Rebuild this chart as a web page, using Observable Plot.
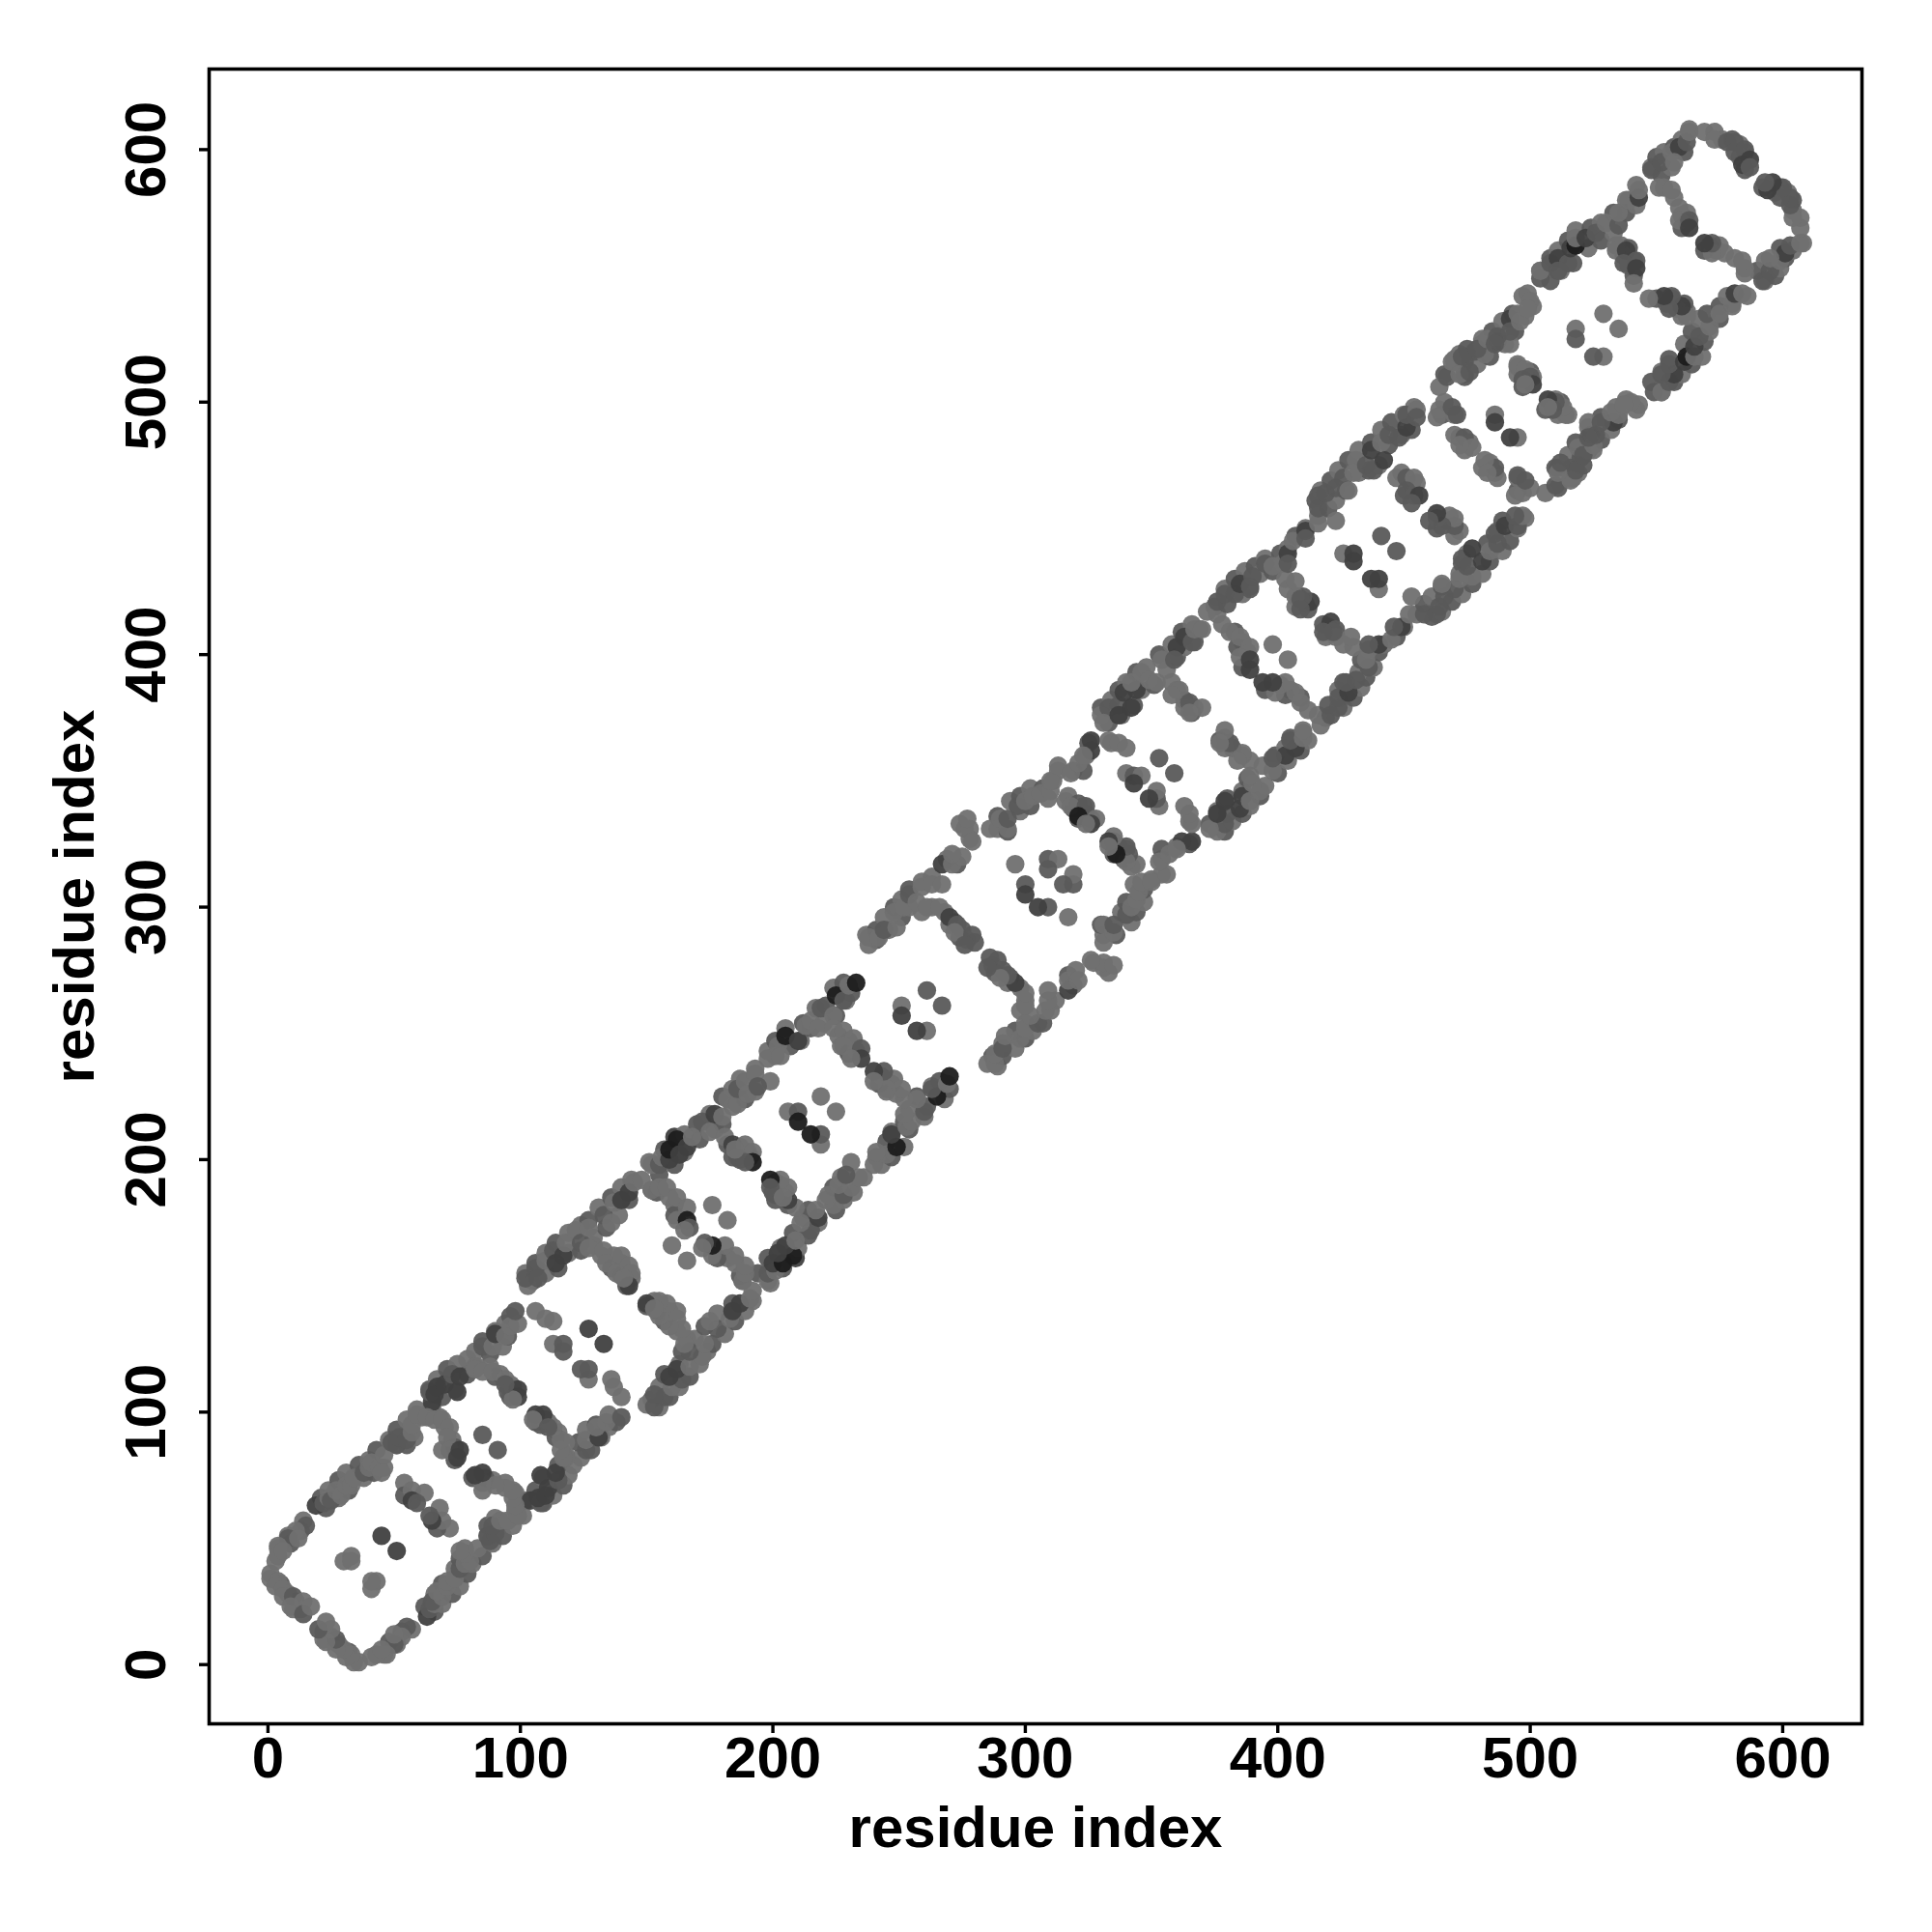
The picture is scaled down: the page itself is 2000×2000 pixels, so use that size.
<!DOCTYPE html>
<html>
<head>
<meta charset="utf-8">
<script src="https://cdn.jsdelivr.net/npm/d3@7"></script>
<script src="https://cdn.jsdelivr.net/npm/@observablehq/plot@0.6"></script>
<style>html,body{margin:0;padding:0;background:#fff}</style>
</head>
<body>
<div id="chart"></div>
<script>
const xTicks = [0, 100, 200, 300, 400, 500, 600];
const yTicks = [0, 100, 200, 300, 400, 500, 600];
const axisTitle = "residue index";

const edges1 = [[21,66,2],[24,69],[28,73,2],[31,76],[36,79,2],[40,81],[43,85,2],[48,89],[51,93,2],[55,97],[59,101],[23,62,2],[28,66],[32,69,2],[38,74],[42,76,2],[46,78],[51,87],[55,87,2],[58,90],
  [1,36],[5,32,2],[8,28],[11,25,2],[13,22],[10,22],[14,57],[13,53,2],[8,51],[9,48,2],[4,46],[3,41]];
const edges2 = [[64,109,2],[67,113],[71,117,2],[75,119],[82,124],[85,128,2],[90,132],[94,135],[96,138,2],[65,102],[69,106,2],[74,109],[79,115,2],[83,118],[88,123,2],[93,126],[95,130,2],
  [61,98],[65,99],[68,98],[70,94],[69,85],[73,89],[74,86,2],[74,81,2],[88,118],[92,115],[90,114,2],[96,111],[95,108,2],[96,106,2]];
const edges3 = [[102,155],[106,159,2],[110,163],[114,167,2],[119,171],[124,174],[127,176,2],[131,181],[136,185,2],[140,189],[144,192],[105,152,2],[110,155],[115,157,2],[119,163],[124,164,2],[129,169],[134,173,2],[139,178],[143,184,2],
  [129,166],[132,162],[137,162],[136,157,2],[140,159],[140,154,2],[144,153],[142,150,2]];
const edges4 = [[151,199],[157,204,2],[161,209,3],[165,210],[170,214,2],[175,218],[180,225,2],[184,228],[187,232],[193,236],[155,194,2],[161,198,2],[165,203],[171,208,2],[177,212],[180,214,2],[184,221],[189,224,2],[193,227],
  [152,188],[154,187,2],[159,185],[161,182],[161,178,2],[182,206,2],[187,205],[184,201,2],[187,200,2],[190,203],[191,201,2]];
const edges5 = [[198,243],[201,247,2],[205,252],[212,254,2],[217,260],[221,261,2],[224,268],[228,270,2],[201,241],[207,245,2],[211,247],[215,252,2],[220,254],[225,257,2],[229,263],[231,266,2],
  [226,249],[230,247,2],[227,245],[230,242,2],[233,243]];
const edges6 = [[237,289],[241,291,2],[244,296],[248,300,2],[251,303],[254,307,2],[259,310],[263,312],[241,287,2],[246,291],[251,296,2],[254,300],[259,298],[263,300],[269,319],[273,317,2],
  [268,298],[272,294,2],[270,293],[275,291,2],[277,287],[274,288,2]];
const edges7 = [[289,336,2],[294,342],[298,344,2],[302,347],[307,347,2],[311,350],[313,354],[289,331],[293,330,2],[298,338],[302,340,2],[309,343],[319,354],[323,354,2],[324,360],[325,365,2],
  [316,342],[319,339,2],[323,340],[321,335,2],[326,335],[324,337,2]];
const edges8 = [[330,379,2],[334,382],[337,386,2],[340,389],[344,393,2],[348,395],[353,400,2],[358,404],[362,409,2],[366,412],[369,410],[333,373,2],[338,376],[343,380,2],[346,386],[351,388,2],[356,394],[360,399,2],[363,403],[367,405,2],
  [334,365],[360,386],[363,382,2],[363,379],[367,379],[366,377,2],[378,412],[383,409,2],[386,405],[384,403,2],[388,401],[386,395,2],[408,423],[411,420,2],[407,419],[412,418,2]];
const edges9 = [[375,419,2],[379,426],[383,430,2],[387,433],[391,435,2],[395,438],[401,440,2],[404,442],[407,447,2],[411,450],[376,416],[380,420,2],[386,424],[389,426,2],[393,432],[398,433,2],[402,436],
  [415,461,2],[417,465],[421,469,2],[424,473],[428,477,2],[432,481],[437,484,2],[441,489],[445,492,2],[450,495],[454,498],[416,455],[420,458,2],[423,461],[427,465,2],[432,472],[436,473,2],[440,475],[444,483,2],[449,487],[453,489,2],
  [449,472],[453,467,2],[455,468],[450,463,2],[454,463]];
const edges10 = [[466,511,2],[470,517],[474,518,2],[481,523],[472,519],[475,521,2],[481,525],[485,528,2],[489,532],[493,535,2],[497,542],[499,543],[474,511,2],[479,515],[484,518,2],[490,523],[494,528,2],[498,534],[501,538],
  [466,500],[465,495,2],[470,495],[472,486,2],[476,484],[474,481],[495,514],[500,512,2],[501,510],[499,509,2],[495,511],[497,506,2]];
const edges11 = [[504,552],[508,557,2],[511,560],[515,564,2],[518,568],[524,569,2],[528,571],[533,575,2],[538,580],[542,586],[508,548,2],[512,552],[517,555,2],[523,561],[528,564,2],[533,567],[538,575,2],[542,578],
  [548,593],[550,597,2],[553,599],[557,601,2],[560,604],[563,608],[552,590,2],[556,593],[561,599,2],[576,604],[580,604,2],[583,602],[585,599,2],[583,597],[585,592,2],
  [536,562],[539,561,2],[537,558],[541,556,2],[539,554],[541,550,2],[553,585],[557,581],[560,574],[562,575],[562,571,2],[560,569,2]];

const group1 = [[1,34],[4,33],[3,31],[6,30],[6,27],[10,27,2],[9,23],[14,25],[14,20,2],[17,23],
  [15,55,2],[11,53],[8,50,2],[4,47],[4,43],[12,50],[6,45],
  [33,43],[30,41],[33,41],[45,51,3],
  [19,63,3],[22,64,2],[24,66],[25,65,2],[27,69],[29,67],[31,71],[33,71],[34,74],[38,76,2],[40,78],[41,80],[44,78],[45,76],[46,83],[49,88,2],[51,87,2],[52,90,2],[55,89,2],[57,92],[57,95],[59,99]];
const group2 = [[54,72],[54,67,2],[57,69],[62,68],[57,65,3],[59,64,2],
  [65,104,3],[64,108,2],[66,107,3],[67,110,3],[70,111,3],[73,115,2],[76,114,3],[75,108,3],[79,121],[82,118],[85,126,2],[89,126],[90,131,3],[94,130],[96,134],[99,135],[98,140,2],
  [63,98],[66,97],[69,97],[72,94],[71,90],[72,85],[76,85,3],[75,82,3],[85,91,2],
  [82,117],[85,116],[89,116],[94,113],[97,110],[99,109,3],[99,106,3],[97,105],[94,111,2]];
const group3 = [[106,140],[110,137],[113,136],[113,127],[117,127,2],[117,124,2],[127,133,3],
  [103,150],[102,153,2],[106,157,2],[107,153,2],[110,160],[113,164,2],[114,159,3],[117,162,3],[118,167],[122,172],[124,167,2],[127,173],[133,178,2],[136,175],[137,183],[140,184,3],[143,187,3],[145,191],[148,192],
  [127,165],[133,164],[134,159],[140,162],[138,155],[143,158],[144,155],[143,150,3],[141,153]];
const group4 = [[152,188],[155,189],[158,189],[162,185],[166,181],[162,176],[166,176,4],[167,173,2],[165,172],[160,166],[176,182],
  [152,198],[155,198,2],[156,201],[159,200,3],[159,204,4],[162,208,4],[163,202,3],[166,205,3],[168,209],[172,215,2],[175,211],[177,218,3],[180,217],[182,224],[186,222],[186,228,2],[190,226],[189,231],[193,234],[199,231],[194,229,2],
  [181,209],[184,206,3],[189,206],[186,201,2],[192,203],[192,199,4],[189,199,2],[185,204]];
const group5 = [[219,225],[206,219],[210,219,2],[210,215,4],
  [198,240],[202,245],[205,249,4],[210,247,3],[203,241],[213,253],[215,255],[219,260,2],[218,252],[224,257],[225,265,4],[228,263,2],[230,269],[233,270,4],
  [224,252],[228,251],[232,248],[228,245],[235,244,2],[235,240,3],[231,240],
  [261,267,2],[251,261],[251,257,3]];
const group6 = [[238,285],[238,288],[242,288],[244,291,2],[249,292],[248,298],[252,300],[254,305,2],[259,308],[263,309],[257,302],[261,300],[267,309],
  [267,317,3],[271,317],[275,320],[271,321],[276,331],[278,327],[274,333],[278,331],[279,326],[277,335],
  [266,300],[270,296,3],[273,293,2],[272,290],[279,289,2],[280,286,2],[276,285,2],
  [296,317],[309,319,2],[313,319],[309,315,2],[300,309,2],[300,305,3]];
const group7 = [[286,331],[290,335],[293,331],[293,335,2],[297,340,2],[300,342],[303,344],[306,345],[310,346],[310,350],[313,356],[318,353],[321,357],[326,366,3],[326,362,3],[323,360],
  [317,344],[321,341,2],[318,340],[324,340,2],[321,336,4],[328,335],[326,333,3],[324,333],
  [353,359,2],[340,353],[343,352,2],[346,352],[343,349,3],[333,366],[337,365],[340,363]];
const group8 = [[330,376],[333,379,2],[331,373],[337,380,2],[337,376,3],[339,385,3],[342,379,3],[344,386,3],[342,389],[346,393],[349,390],[354,398],[352,389],[360,403,3],[359,398,2],[363,407,3],[366,405,2],[367,410],[370,410],
  [358,389],[361,386],[358,384],[365,381,2],[370,379],[365,377],
  [381,409],[385,407],[389,403],[385,399],[389,398,3],[389,394,3],[398,404],[413,421,3],[410,423,2],[407,423],[404,426],[403,430],[407,429],[409,422,2],[409,418,2]];
const group9 = [[372,417],[376,421,2],[379,424,2],[383,424,2],[385,428,3],[389,427,2],[390,431,2],[395,436,2],[398,435],[404,440,3],[404,436,2],[406,445],[411,449,3],[411,446,2],
  [426,440],[430,440,3],[430,437,3],[441,447,2],
  [416,452],[416,458,2],[423,453],[416,463,2],[419,464,2],[423,466,2],[426,470,2],[428,465],[431,477],[430,472],[435,475,2],[437,481,3],[438,473,2],[442,477,3],[441,484],[444,487,2],[448,486,2],[451,490,3],[451,495,2],[455,497],[455,494,2],
  [447,470],[451,470,2],[454,470],[451,465,2],[456,463,3],[453,460,2]];
const group10 = [[464,506],[467,510,2],[470,516],[474,516,2],[474,510,2],[478,520,2],[482,519],[481,523],[487,524,3],[492,523],
  [464,497],[469,498,2],[471,495,2],[470,487],[474,486,2],[477,482],[472,483],[463,494],[486,495],[486,492,3],
  [495,515],[498,513],[500,510,2],[501,507,3],[497,509,2],[498,507],
  [469,516],[473,518,2],[472,511],[476,512,2],[479,521,2],[483,525],[487,526,2],[486,523,2],[492,533,3],[492,528,2],[495,535],[496,532],[500,540],[499,537]];
const group11 = [[504,549,2],[504,552],[508,555,2],[511,557,3],[511,552,2],[515,555,2],[516,561,3],[518,562,4],[518,565],[522,565,3],[526,567,2],[530,571],[535,570,2],[535,575],[539,580],[543,581,3],[543,584],
  [548,592,2],[552,595,2],[556,599],[559,601,3],[557,595],[562,603,2],[563,607],[569,607],[573,607],[573,604],[578,603,2],[581,603,2],[581,599,2],[585,600,2],[584,594,3],[587,596,3],[587,593,2],
  [551,585],[556,584],[559,577],[559,572],[563,572,2],[563,569,3],
  [534,562],[534,560],[538,560,3],[542,556,2],[537,555,2],[542,553,3],[541,547],
  [529,535],[518,529],[518,525,2]];

const upper = [edges1, edges2, edges3, edges4, edges5, edges6, edges7, edges8, edges9, edges10, edges11,
  group1, group2, group3, group4, group5, group6, group7, group8, group9, group10, group11].flat();
// The contact map holds each pair (i, j) and (j, i).
const contacts = [
  ...upper.map(([i, j, s = 1]) => ({x: i, y: j, s})),
  ...upper.map(([i, j, s = 1]) => ({x: j, y: i, s}))
];

const chart = Plot.plot({
  width: 2000, height: 2000,
  marginLeft: 216, marginRight: 73, marginTop: 71, marginBottom: 216,
  style: {fontFamily: "'Liberation Sans', Arial, sans-serif", fontWeight: "bold", color: "black", background: "white"},
  x: {domain: [-23.3, 631.4]},
  y: {domain: [-23.45, 631.9]},
  color: {type: "ordinal", domain: [1, 2, 3, 4], range: ["#707070", "#5a5a5a", "#404040", "#1c1c1c"]},
  marks: [
    Plot.dot(contacts, {x: "x", y: "y", fill: "s", r: 9.6, fillOpacity: 0.95}),
    Plot.frame({stroke: "black", strokeWidth: 3.6}),
    Plot.axisX(xTicks, {tickSize: 10, tickPadding: 3, fontSize: 60, strokeWidth: 3.4, label: axisTitle, labelAnchor: "center", labelArrow: "none", labelOffset: 127, tickFormat: d => d}),
    Plot.axisY(yTicks, {tickSize: 10, tickPadding: 36, fontSize: 60, strokeWidth: 3.4, tickRotate: -90, label: axisTitle, labelAnchor: "center", labelArrow: "none", labelOffset: 162, tickFormat: d => d})
  ]
});
document.getElementById("chart").appendChild(chart);
</script>
</body>
</html>
